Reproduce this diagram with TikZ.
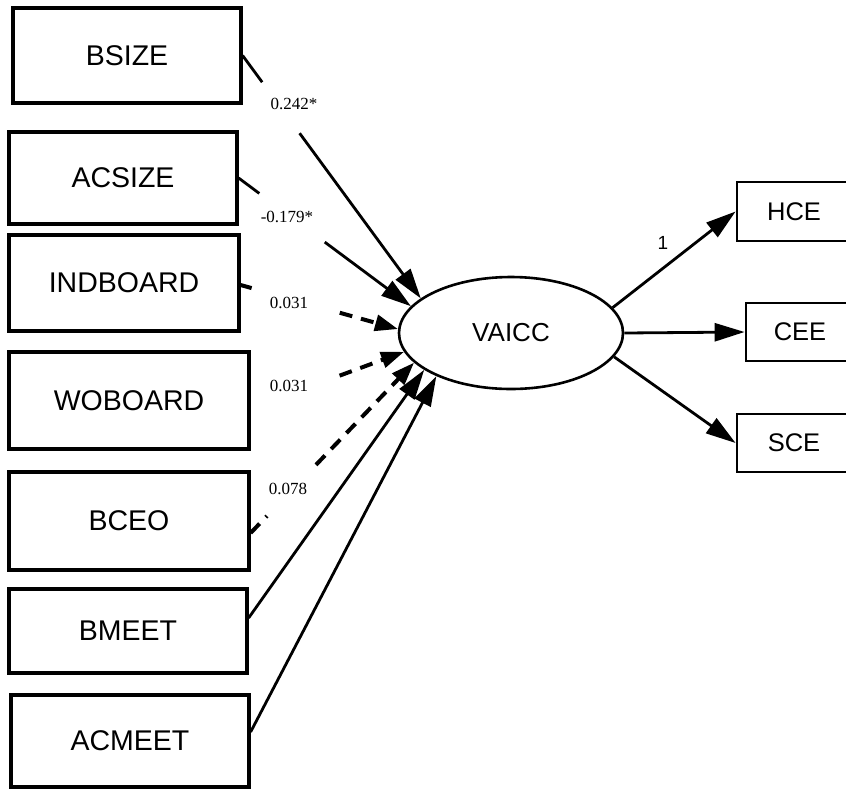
\documentclass[tikz,border=0pt]{standalone}
\usepackage{fontspec}
\setmainfont{Liberation Serif}
\newfontfamily\arialf{Liberation Sans}
\usetikzlibrary{arrows.meta,shapes.geometric,calc}
\begin{document}
\begin{tikzpicture}[x=1pt,y=-1pt,
  varbox/.style={draw,line width=3.2pt,rectangle,inner sep=0pt,font=\arialf\fontsize{28.5}{30}\selectfont},
  outbox/.style={draw,line width=2.8pt,rectangle,inner sep=0pt,font=\arialf\fontsize{25.5}{27}\selectfont},
  latent/.style={draw,line width=2.6pt,ellipse,inner sep=0pt,minimum width=224pt,minimum height=112pt,font=\arialf\fontsize{26}{28}\selectfont},
  solidline/.style={line width=2.8pt},
  solidarrow/.style={line width=2.8pt,-{Triangle[length=30pt,width=18pt]}},
  dashline/.style={line width=4pt,dash pattern=on 13pt off 9pt},
  dasharrow/.style={line width=4pt,dash pattern=on 13pt off 9pt,-{Triangle[length=23pt,width=16pt]}},
  coef/.style={font=\fontsize{17}{19}\selectfont,inner sep=1pt},
  onelabel/.style={font=\arialf\fontsize{19}{21}\selectfont,inner sep=1pt}]
\path[use as bounding box] (0,0) rectangle (846,788);
\clip (0,0) rectangle (846,788);
\fill[white] (0,0) rectangle (846,788);

% left boxes
\node[varbox,minimum width=228pt,minimum height=95pt] (bsize) at (127,55.5) {BSIZE};
\node[varbox,minimum width=228pt,minimum height=92pt] (acsize) at (123,178) {ACSIZE};
\node[varbox,minimum width=230pt,minimum height=96pt] (indboard) at (124,283) {INDBOARD};
\node[varbox,minimum width=240pt,minimum height=97pt] (woboard) at (129,400.5) {WOBOARD};
\node[varbox,minimum width=240pt,minimum height=98pt] (bceo) at (129,521) {BCEO};
\node[varbox,minimum width=238pt,minimum height=84pt] (bmeet) at (128,631) {BMEET};
\node[varbox,minimum width=238pt,minimum height=92pt] (acmeet) at (130,741) {ACMEET};

% latent
\node[latent] (vaicc) at (511,333) {VAICC};

% right boxes
\node[outbox,minimum width=114pt,minimum height=59pt] (hce) at (794,211.5) {HCE};
\node[outbox,minimum width=108pt,minimum height=58pt] (cee) at (800,332) {CEE};
\node[outbox,minimum width=114pt,minimum height=58pt] (sce) at (794,443) {SCE};

% BSIZE
\draw[solidline] (bsize.east) -- ($(bsize.east)!0.11!(vaicc.159)$);
\draw[solidarrow] ($(bsize.east)!0.32!(vaicc.159)$) -- (vaicc.159);
\node[coef] (l1) at (294,103.5) {0.242*};

% ACSIZE
\draw[solidline] (acsize.east) -- ($(acsize.east)!0.12!(vaicc.165)$);
\draw[solidarrow] ($(acsize.east)!0.50!(vaicc.165)$) -- (vaicc.165);
\node[coef] (l2) at (287,217) {-0.179*};

% INDBOARD
\draw[dashline] ([yshift=-2pt]indboard.east) -- ($([yshift=-2pt]indboard.east)!0.07!(vaicc.178)$);
\draw[dasharrow] ($([yshift=-2pt]indboard.east)!0.63!(vaicc.178)$) -- (vaicc.178);
\node[coef] (l3) at (289,303) {0.031};

% WOBOARD
\draw[dasharrow] ($([yshift=-8pt]woboard.east)!0.58!(vaicc.190)$) -- (vaicc.190);
\node[coef] (l4) at (289,386) {0.031};

% BCEO
\draw[dashline] ([yshift=-12pt]bceo.east) -- ($([yshift=-12pt]bceo.east)!0.1!(vaicc.197)$);
\draw[dasharrow] ($([yshift=-12pt]bceo.east)!0.4!(vaicc.197)$) -- (vaicc.197);
\node[coef] (l5) at (288,489) {0.078};

% BMEET, ACMEET
\draw[solidarrow] ([yshift=13pt]bmeet.east) -- (vaicc.203);
\draw[solidarrow] ([yshift=9pt]acmeet.east) -- (vaicc.210);

% outputs
\draw[solidarrow] (vaicc.14) -- (hce.west);
\draw[solidarrow] (vaicc.east) -- (cee.west);
\draw[solidarrow] (vaicc.-13) -- (sce.west);
\node[onelabel] (l6) at (663,243) {1};
\end{tikzpicture}
\end{document}
